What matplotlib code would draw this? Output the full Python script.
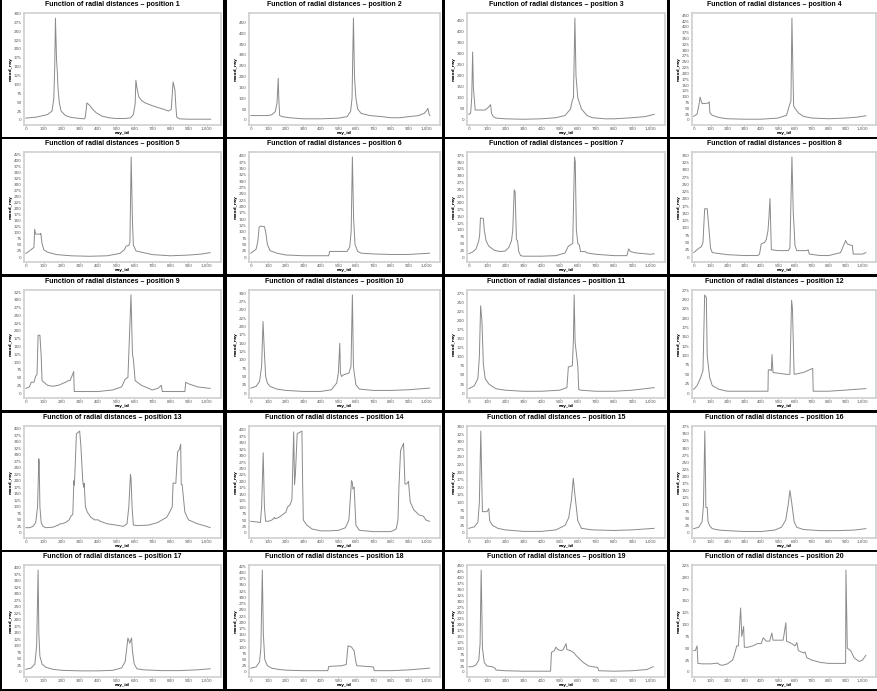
import matplotlib.pyplot as plt
import matplotlib.ticker as mticker

# breakpoints (ray_id, mood_ray)
pos1_x = [0, 60, 120, 145, 155, 160, 164, 170, 175, 178, 185, 195, 220, 250, 300, 325, 330, 338, 355, 370, 390, 420, 460, 500, 550, 580, 595, 605, 609, 615, 625, 640, 660, 700, 750, 790, 805, 810, 815, 825, 830, 835, 850, 900, 1023]
pos1_y = [5, 8, 15, 25, 60, 150, 287, 170, 130, 90, 50, 25, 12, 7, 4, 3, 10, 48, 40, 30, 20, 11, 6, 4, 4, 6, 15, 45, 112, 90, 65, 55, 48, 40, 32, 25, 30, 70, 107, 85, 40, 8, 3, 2, 2]

pos2_x = [0, 100, 120, 140, 150, 157, 160, 165, 180, 220, 300, 400, 500, 550, 570, 578, 586, 592, 600, 610, 630, 680, 750, 800, 850, 900, 960, 970, 990, 1005, 1011, 1018, 1023]
pos2_y = [20, 20, 24, 38, 80, 192, 100, 20, 15, 10, 5, 5, 8, 15, 40, 100, 470, 200, 100, 50, 30, 20, 15, 10, 10, 15, 20, 25, 30, 45, 53, 25, 20]

pos3_x = [0, 10, 16, 21, 25, 35, 90, 105, 120, 125, 135, 150, 200, 300, 400, 480, 530, 560, 570, 576, 584, 590, 600, 620, 650, 680, 750, 800, 900, 970, 1020]
pos3_y = [25, 30, 100, 308, 150, 45, 45, 55, 69, 30, 15, 8, 5, 3, 5, 10, 20, 50, 90, 100, 462, 200, 100, 50, 20, 10, 5, 5, 10, 15, 25]

pos4_x = [0, 20, 30, 38, 45, 50, 85, 92, 96, 110, 150, 200, 300, 400, 500, 550, 570, 576, 582, 588, 592, 600, 620, 650, 700, 800, 900, 970, 1020]
pos4_y = [15, 25, 60, 98, 80, 70, 72, 78, 30, 20, 10, 5, 3, 3, 8, 20, 70, 80, 438, 200, 60, 50, 30, 15, 8, 5, 8, 12, 18]

pos5_x = [0, 20, 45, 49, 55, 80, 83, 90, 100, 120, 170, 250, 350, 450, 520, 545, 555, 570, 576, 583, 590, 595, 610, 640, 700, 800, 900, 970, 1020]
pos5_y = [15, 25, 40, 115, 95, 95, 98, 55, 30, 20, 10, 5, 3, 5, 15, 30, 45, 48, 60, 415, 150, 50, 25, 20, 10, 5, 8, 12, 18]

pos6_x = [0, 30, 40, 48, 55, 78, 85, 95, 110, 150, 200, 300, 400, 445, 450, 550, 565, 573, 580, 587, 595, 610, 630, 700, 800, 900, 1020]
pos6_y = [15, 30, 60, 118, 122, 120, 100, 50, 25, 15, 8, 5, 5, 5, 22, 22, 40, 100, 395, 150, 50, 22, 15, 12, 10, 10, 15]

pos7_x = [0, 20, 40, 55, 60, 64, 80, 85, 95, 110, 140, 170, 200, 220, 235, 242, 250, 255, 262, 268, 275, 285, 300, 400, 480, 530, 548, 560, 572, 582, 586, 592, 600, 608, 615, 640, 650, 700, 800, 870, 880, 890, 920, 1000, 1020]
pos7_y = [12, 18, 30, 60, 85, 144, 142, 100, 60, 40, 25, 20, 22, 35, 60, 100, 248, 240, 65, 60, 20, 5, 3, 3, 5, 15, 40, 45, 50, 369, 350, 100, 50, 45, 20, 20, 15, 10, 5, 5, 30, 20, 15, 10, 12]

pos8_x = [0, 20, 30, 45, 55, 65, 80, 90, 100, 110, 150, 200, 300, 380, 390, 400, 420, 430, 440, 445, 452, 460, 500, 560, 570, 582, 590, 595, 600, 610, 670, 678, 685, 750, 800, 870, 895, 900, 910, 935, 940, 945, 1000, 1020]
pos8_y = [15, 25, 30, 35, 50, 166, 166, 100, 30, 15, 12, 8, 5, 5, 10, 45, 50, 60, 90, 130, 201, 25, 22, 22, 30, 344, 150, 100, 40, 22, 22, 25, 10, 5, 5, 15, 50, 57, 45, 40, 40, 10, 10, 15]

pos9_x = [0, 20, 30, 45, 55, 62, 68, 78, 85, 90, 100, 120, 150, 180, 220, 235, 245, 265, 268, 400, 480, 530, 550, 565, 582, 590, 595, 605, 640, 700, 730, 750, 755, 880, 885, 900, 950, 1020]
pos9_y = [15, 20, 35, 35, 55, 60, 186, 186, 120, 40, 35, 25, 22, 25, 35, 40, 40, 69, 5, 5, 10, 20, 45, 50, 316, 125, 110, 40, 25, 10, 15, 25, 5, 5, 35, 30, 20, 15]

pos10_x = [0, 30, 50, 62, 70, 78, 85, 95, 110, 150, 200, 300, 400, 460, 490, 500, 508, 512, 518, 530, 560, 572, 580, 586, 592, 600, 620, 700, 800, 900, 1020]
pos10_y = [15, 20, 35, 80, 215, 120, 50, 30, 20, 12, 8, 5, 5, 10, 30, 60, 150, 60, 50, 55, 60, 80, 295, 80, 55, 25, 12, 8, 8, 10, 15]

pos11_x = [0, 30, 50, 58, 65, 72, 80, 90, 110, 130, 150, 200, 300, 400, 500, 540, 548, 570, 576, 580, 585, 600, 605, 615, 700, 800, 900, 1020]
pos11_y = [12, 20, 40, 100, 240, 200, 80, 40, 25, 18, 12, 8, 5, 5, 8, 15, 72, 75, 150, 270, 140, 75, 10, 8, 5, 5, 8, 15]

pos12_x = [0, 20, 40, 55, 65, 75, 80, 95, 100, 110, 150, 200, 300, 440, 442, 455, 460, 464, 470, 550, 570, 580, 585, 595, 650, 705, 708, 800, 900, 1020]
pos12_y = [10, 20, 40, 60, 262, 255, 100, 40, 35, 20, 10, 5, 5, 5, 62, 62, 60, 103, 55, 50, 50, 248, 225, 50, 55, 66, 5, 5, 8, 12]

pos13_x = [0, 20, 40, 55, 65, 72, 74, 78, 85, 95, 110, 150, 180, 190, 200, 220, 240, 250, 260, 266, 269, 280, 298, 305, 315, 320, 323, 330, 340, 360, 380, 400, 410, 450, 500, 540, 560, 570, 579, 582, 588, 595, 620, 680, 730, 780, 800, 810, 815, 830, 840, 850, 857, 860, 865, 880, 900, 950, 1000, 1020]
pos13_y = [20, 20, 25, 40, 100, 284, 270, 100, 40, 25, 20, 22, 30, 35, 35, 40, 50, 65, 70, 200, 183, 380, 390, 330, 200, 175, 190, 100, 80, 60, 50, 50, 45, 35, 30, 25, 35, 100, 224, 210, 100, 30, 28, 30, 40, 60, 85, 100, 191, 190, 310, 320, 340, 185, 185, 80, 50, 35, 25, 20]

pos14_x = [0, 40, 55, 62, 71, 78, 85, 100, 120, 130, 135, 140, 160, 180, 200, 210, 225, 235, 245, 250, 255, 265, 292, 296, 300, 320, 350, 400, 450, 500, 540, 560, 575, 580, 583, 590, 600, 620, 700, 800, 830, 840, 846, 855, 872, 880, 890, 900, 910, 930, 960, 985, 1000, 1020]
pos14_y = [45, 42, 40, 100, 311, 100, 45, 45, 50, 55, 60, 55, 60, 70, 80, 100, 110, 130, 392, 187, 230, 385, 395, 200, 50, 30, 15, 8, 8, 10, 20, 50, 203, 195, 170, 178, 30, 10, 5, 5, 15, 50, 185, 320, 348, 190, 190, 200, 120, 90, 70, 65, 50, 45]

pos15_x = [0, 30, 50, 58, 66, 72, 75, 100, 110, 115, 130, 160, 200, 300, 400, 480, 530, 550, 565, 575, 585, 600, 620, 680, 800, 900, 1020]
pos15_y = [15, 20, 35, 100, 335, 150, 70, 70, 80, 40, 25, 15, 10, 5, 5, 10, 25, 50, 110, 180, 120, 40, 15, 10, 8, 10, 15]

pos16_x = [0, 30, 50, 58, 66, 70, 72, 80, 85, 95, 110, 150, 200, 300, 400, 480, 520, 545, 560, 570, 580, 595, 610, 650, 750, 850, 950, 1020]
pos16_y = [15, 20, 40, 100, 360, 200, 90, 90, 40, 25, 15, 10, 8, 5, 5, 10, 20, 45, 100, 150, 110, 40, 20, 12, 8, 8, 10, 15]

pos17_x = [0, 30, 50, 60, 68, 72, 78, 90, 110, 150, 200, 300, 400, 480, 530, 550, 560, 565, 575, 585, 590, 600, 615, 650, 750, 850, 950, 1020]
pos17_y = [10, 15, 30, 100, 390, 150, 60, 30, 18, 10, 6, 4, 4, 6, 15, 40, 100, 130, 110, 130, 80, 30, 12, 8, 5, 5, 8, 12]

pos18_x = [0, 30, 50, 58, 66, 72, 80, 95, 120, 160, 200, 300, 440, 445, 520, 545, 555, 575, 590, 600, 605, 700, 705, 800, 900, 1020]
pos18_y = [15, 20, 40, 100, 410, 150, 50, 25, 15, 10, 7, 5, 5, 22, 25, 30, 105, 100, 85, 40, 25, 20, 5, 5, 8, 15]

pos19_x = [0, 20, 40, 55, 62, 68, 75, 85, 100, 130, 145, 150, 200, 300, 450, 455, 470, 480, 490, 510, 520, 535, 540, 560, 580, 590, 610, 630, 660, 700, 710, 715, 800, 900, 980, 1015]
pos19_y = [22, 22, 30, 50, 120, 432, 100, 40, 25, 22, 15, 8, 5, 3, 3, 83, 90, 105, 95, 90, 95, 120, 95, 90, 80, 70, 55, 40, 25, 20, 18, 5, 3, 5, 10, 22]

pos20_x = [0, 10, 20, 25, 50, 100, 130, 140, 155, 170, 200, 230, 240, 255, 265, 278, 285, 296, 300, 320, 350, 380, 400, 412, 430, 450, 463, 470, 500, 530, 546, 550, 580, 600, 611, 620, 650, 660, 670, 700, 750, 800, 900, 902, 910, 930, 950, 980, 1000, 1020]
pos20_y = [45, 45, 55, 18, 17, 17, 18, 19, 15, 14, 17, 25, 35, 55, 55, 135, 75, 96, 52, 52, 55, 60, 60, 72, 65, 65, 82, 67, 67, 67, 104, 65, 60, 55, 62, 45, 40, 42, 30, 25, 20, 18, 18, 215, 50, 45, 30, 22, 25, 35]

series_x = [pos1_x, pos2_x, pos3_x, pos4_x, pos5_x, pos6_x, pos7_x, pos8_x, pos9_x, pos10_x,
            pos11_x, pos12_x, pos13_x, pos14_x, pos15_x, pos16_x, pos17_x, pos18_x, pos19_x, pos20_x]
series_y = [pos1_y, pos2_y, pos3_y, pos4_y, pos5_y, pos6_y, pos7_y, pos8_y, pos9_y, pos10_y,
            pos11_y, pos12_y, pos13_y, pos14_y, pos15_y, pos16_y, pos17_y, pos18_y, pos19_y, pos20_y]
y_steps = [25, 50, 50, 25, 25, 25, 25, 25, 25, 25, 25, 25, 25, 25, 25, 25, 25, 25, 25, 25]

W, H = 878, 691
col_l = [2, 227, 445, 670]
col_r = [223, 442, 667, 878]
row_t = [0, 139, 277, 413, 552]
row_b = [137, 274, 410, 550, 689]

fig = plt.figure(figsize=(W / 100, H / 100), dpi=100, facecolor='black')

def frac(l, t, r, b):
    return [l / W, 1 - b / H, (r - l) / W, (b - t) / H]

for i in range(20):
    r, c = divmod(i, 4)
    l, rr, t, b = col_l[c], col_r[c], row_t[r], row_b[r]

    bg = fig.add_axes(frac(l, t, rr, b))
    bg.set_facecolor('white')
    bg.set_xticks([])
    bg.set_yticks([])
    for s in bg.spines.values():
        s.set_visible(False)
    bg.text(0.5, 0.99, 'Function of radial distances \u2013 position %d' % (i + 1),
            transform=bg.transAxes, ha='center', va='top', fontsize=5.0,
            fontweight='bold', family=['Liberation Sans', 'DejaVu Sans'])

    ax = fig.add_axes(frac(l + 22, t + 13, rr - 2, b - 12))
    ax.plot(series_x[i], series_y[i], color='#8a8a8a', lw=0.7)
    ax.set_ylim(-0.05 * max(series_y[i]), 1.05 * max(series_y[i]))
    ax.set_xlim(-10, 1080)
    ax.xaxis.set_major_locator(mticker.MultipleLocator(100))
    ax.yaxis.set_major_locator(mticker.MultipleLocator(y_steps[i]))
    ax.xaxis.set_major_formatter(mticker.StrMethodFormatter('{x:,.0f}'))
    ax.tick_params(labelsize=3.0, length=1.0, width=0.4, pad=0.6, colors='#555555')
    for s in ax.spines.values():
        s.set_color('#cfcfcf')
        s.set_linewidth(1.2)
    ax.set_xlabel('ray_id', fontsize=3.2, fontweight='bold', labelpad=0)
    ax.set_ylabel('mood_ray', fontsize=3.2, fontweight='bold', labelpad=0.8)

fig.savefig('out.png', dpi=100, facecolor='black')
